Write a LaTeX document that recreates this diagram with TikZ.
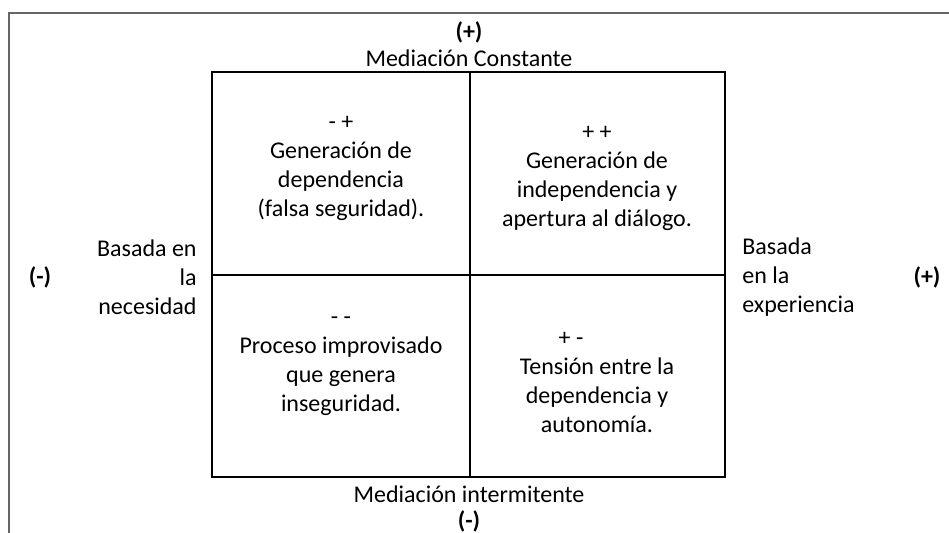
\documentclass[tikz,border=0pt]{standalone}
\usepackage{fontspec}
\setmainfont{Carlito}
\usepackage{tikz}
\usetikzlibrary{positioning}

\begin{document}
\begin{tikzpicture}[x=0.5pt,y=-0.5pt,
    textnode/.style={inner sep=0pt,font=\fontsize{12}{14.5}\selectfont},
    quadnode/.style={textnode,align=center},
    signnode/.style={textnode,font=\fontsize{12}{14.5}\selectfont\bfseries},]
    \clip (0,0) rectangle (949,532);
    \useasboundingbox (0,0) rectangle (949,532);
    \draw[gray!80!black, line width=0.9pt] (9,13) rectangle (980,560);
    \draw[line width=0.6pt] (212,72) rectangle (725,477);
    \draw[line width=0.6pt] (470,72) -- (470,477);
    \draw[line width=0.6pt] (212,275) -- (725,275);
    \node[signnode] at (469,32) (ejeTopSign) {(+)};
    \node[textnode] at (469,58) (ejeTop) {Mediación Constante};
    \node[textnode] at (469,494) (ejeBottom) {Mediación intermitente};
    \node[signnode] at (469,521) (ejeBottomSign) {(-)};
    \node[signnode] at (40,277) (ejeLeftSign) {(-)};
    \node[signnode] at (927,277) (ejeRightSign) {(+)};
    \node[textnode,align=right,anchor=east] at (197,277) (ejeLeft) {Basada en\\la\\necesidad};
    \node[textnode,align=left,anchor=west] at (742,277) (ejeRight) {Basada\\en la\\experiencia};
    \node[quadnode] at (341,168) (quadMenosMas) {- +\\Generación de\\dependencia\\(falsa seguridad).};
    \node[quadnode] at (597,178) (quadMasMas) {+ +\\Generación de\\independencia y\\apertura al diálogo.};
    \node[quadnode] at (341,366) (quadMenosMenos) {- -\\Proceso improvisado\\que genera\\inseguridad.};
    \node[quadnode] at (597,382) (quadMasMenos) {+ -\rule{26pt}{0pt}\\Tensión entre la\\dependencia y\\autonomía.};
\end{tikzpicture}
\end{document}
